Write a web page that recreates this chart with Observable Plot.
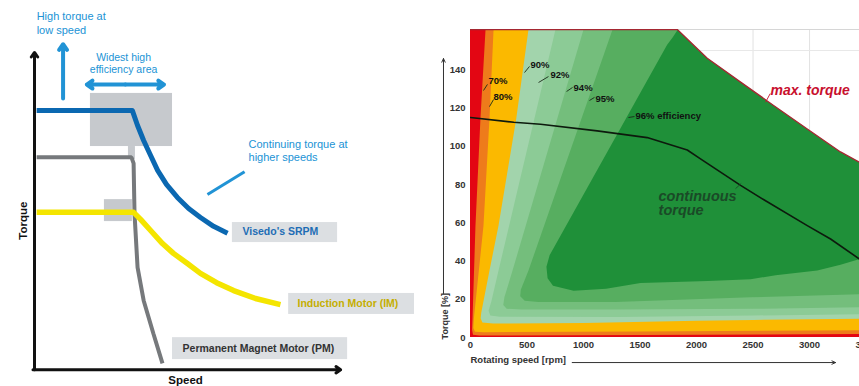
<!DOCTYPE html>
<html><head><meta charset="utf-8">
<script src="https://cdn.jsdelivr.net/npm/d3@7"></script>
<script src="https://cdn.jsdelivr.net/npm/@observablehq/plot@0.6"></script>
<style>
body{margin:0;background:#fff;}
#wrap{position:relative;width:859px;height:386px;overflow:hidden;background:#fff;}
#left{position:absolute;left:0;top:0;}
#right{position:absolute;left:430px;top:0;}
</style></head><body>
<div id="wrap"><div id="left"></div><div id="right"></div></div>
<script>
// ---------- LEFT PANEL (schematic, arbitrary units 0-100) ----------
const srpmCurve = [[0.7,81.1],[32.2,81.1],[33.9,76.4],[35.9,71.7],[38.2,67.0],[40.5,62.3],[43.4,57.9],[47.0,53.8],[50.7,50.3],[54.6,47.5],[58.9,44.7],[63.5,42.5]];
const pmCurve = [[0.7,66.4],[31.9,66.4],[32.6,64.5],[32.9,48.7],[33.9,31.8],[35.9,21.4],[39.1,11.0],[42.1,1.6]];
const imCurve = [[0.7,49.1],[32.6,49.1],[34.9,46.9],[38.2,43.4],[42.1,39.3],[45.7,36.2],[50.3,33.0],[54.6,29.9],[59.9,27.0],[65.5,24.5],[72.7,22.0],[80.9,20.1]];
const shadeBoxes = [
  {x1:18.4,x2:45.4,y1:69.8,y2:86.5},
  {x1:23.0,x2:32.2,y1:46.2,y2:53.1},
  {x1:30.9,x2:33.2,y1:65.7,y2:69.8}];
const labelBoxes = [
  {x1:65.1,x2:99.7,y1:39.6,y2:45.9},
  {x1:83.6,x2:125,y1:17.0,y2:23.6},
  {x1:45.4,x2:103,y1:2.8,y2:9.7}];
const curveLabels = [
  {x:68.4,y:42.9,t:"Visedo's SRPM",c:"#1e6db5"},
  {x:86.5,y:20.3,t:"Induction Motor (IM)",c:"#c4ae00"},
  {x:48.7,y:6.1,t:"Permanent Magnet Motor (PM)",c:"#333333"}];
const notesStart = [
  {x:0.7,y:110.6,t:"High torque at"},
  {x:0.7,y:106.3,t:"low speed"},
  {x:70.4,y:70.4,t:"Continuing torque at"},
  {x:70.4,y:66.4,t:"higher speeds"}];
const notesMid = [{x:29.3,y:97.7,t:"Widest high"},{x:29.3,y:93.9,t:"efficiency area"}];
const noteArrows = [
  {x1:9.4,y1:84.9,x2:9.4,y2:102.0},
  {x1:29.9,y1:89.3,x2:17.2,y2:89.3},
  {x1:29.9,y1:89.3,x2:42.6,y2:89.3}];
const noteLinks = [{x1:56.9,y1:54.7,x2:69.1,y2:61.9}];
const leftAxes = [{x1:0,y1:-0.4,x2:0,y2:99.4},{x1:-0.5,y1:-0.4,x2:100.7,y2:-0.4}];
const leftAxisLabels = [{x:-3.6,y:46.5,t:"Torque",r:-90},{x:49.7,y:-3.8,t:"Speed",r:0}];

const FONT = "Liberation Sans, Arial, Helvetica, sans-serif";
const LB = "#2193d5";
const px = d => d[0], py = d => d[1];

const left = Plot.plot({
  width: 430, height: 386,
  marginLeft: 34, marginRight: 92, marginTop: 50, marginBottom: 18,
  x: {domain: [0, 100], axis: null},
  y: {domain: [0, 100], axis: null},
  style: {fontFamily: FONT, background: "transparent", overflow: "visible"},
  marks: [
    Plot.rect(shadeBoxes, {x1:"x1", x2:"x2", y1:"y1", y2:"y2", fill:"#c6c9cd"}),
    Plot.rect(labelBoxes, {x1:"x1", x2:"x2", y1:"y1", y2:"y2", fill:"#dcdfe2"}),
    Plot.line(pmCurve, {x:px, y:py, stroke:"#76797c", strokeWidth:4, strokeLinecap:"butt", strokeLinejoin:"miter"}),
    Plot.line(imCurve, {x:px, y:py, stroke:"#f4e500", strokeWidth:5.5, strokeLinecap:"butt", strokeLinejoin:"round"}),
    Plot.line(srpmCurve, {x:px, y:py, stroke:"#0b68b1", strokeWidth:5, strokeLinecap:"butt", strokeLinejoin:"round"}),
    Plot.arrow(noteArrows, {x1:"x1", y1:"y1", x2:"x2", y2:"y2", stroke:LB, strokeWidth:4, headLength:2.6, headAngle:70}),
    Plot.link(noteLinks, {x1:"x1", y1:"y1", x2:"x2", y2:"y2", stroke:LB, strokeWidth:3}),
    Plot.arrow(leftAxes, {x1:"x1", y1:"y1", x2:"x2", y2:"y2", stroke:"#111", strokeWidth:3, headLength:2.8, headAngle:70}),
    Plot.text(notesStart, {x:"x", y:"y", text:"t", textAnchor:"start", fill:LB, fontSize:11}),
    Plot.text(notesMid, {x:"x", y:"y", text:"t", textAnchor:"middle", fill:LB, fontSize:10.5}),
    Plot.text(curveLabels, {x:"x", y:"y", text:"t", textAnchor:"start", fill:"c", fontSize:10.5, fontWeight:"bold"}),
    Plot.text(leftAxisLabels, {x:"x", y:"y", text:"t", rotate:"r", textAnchor:"middle", fill:"#111", fontSize:11.5, fontWeight:"bold"})
  ]
});
document.getElementById("left").append(left);

// ---------- RIGHT PANEL (efficiency map) ----------
const ticksRpm = [0,500,1000,1500,2000,2500,3000,3500];
const ticksTorque = [0,20,40,60,80,100,120,140];
const gridRpm = [2500,3000];
const gridTorque = [150];
const maxTorque = [[0,161],[1830,161],[2095,146],[2390,133.5],[2682,121.3],[2980,109],[3274,97],[3442,91.6],[3600,85.5]];
const contTorque = [[0,115],[383,112.5],[620,111.5],[1121,108],[1563,104.5],[1918,98],[2035,93.4],[2390,79.5],[2596,72],[2980,58.5],[3186,51.5],[3442,41],[3600,35]];
const bandAll = [[-50,-10],[-50,175],[3700,175],[3700,-10]];
const band70 = [[140,175],[133,161],[88,114.5],[44,58.5],[18,10],[14,4],[22,1.5],[80,1.0],[1500,1.3],[3700,1.9],[3700,175]];
const band80 = [[214,175],[204,161],[168,114.5],[115,58.5],[30,10],[25,5],[40,3],[120,2.8],[1500,3.2],[3700,3.8],[3700,175]];
const band90 = [[530,175],[513,161],[405,114.5],[248,58.5],[168,35],[95,13],[90,10],[105,7.8],[200,7.3],[1000,7.6],[2000,8.8],[2500,9.2],[3700,10],[3700,175]];
const band92 = [[790,175],[752,161],[560,113],[400,73],[248,35],[185,19],[160,14],[175,11.5],[260,10.9],[1300,10.7],[2500,11.5],[3700,12.4],[3700,175]];
const band94 = [[1070,175],[1000,161],[372,35],[300,21],[290,17],[320,15],[450,14.6],[1300,14.6],[2500,15],[3700,16],[3700,175]];
const band95 = [[1340,175],[1257,161],[513,35],[445,25],[440,21.5],[480,19.2],[600,18.5],[1283,18.5],[2478,21],[3700,23],[3700,175]];
const band96 = [[1880,175],[1835,161],[1790,157],[1740,153],[700,43],[672,37],[682,31],[730,27],[912,24.5],[1200,25.5],[1504,28.5],[2100,29.5],[2478,30.5],[2700,32.5],[3068,35],[3274,38],[3442,41],[3700,44],[3700,175]];
const bandColors = ["#e30613","#ee7b1b","#fbb900","#a2d4ac","#8ccb96","#74be7c","#57ae60","#1f9039"];
const bands = [bandAll, band70, band80, band90, band92, band94, band95, band96];

const effLabels = [
  {x:159,y:134.0,t:"70%"},{x:204,y:125.8,t:"80%"},{x:531,y:142.6,t:"90%"},
  {x:708,y:137.2,t:"92%"},{x:912,y:130.5,t:"94%"},{x:1106,y:124.8,t:"95%"},
  {x:1460,y:115.7,t:"96% efficiency"}];
const effLeaders = [
  {x1:115,y1:129.1,x2:150,y2:132.3},{x1:168,y1:120.7,x2:204,y2:124.4},
  {x1:478,y1:138.5,x2:522,y2:141.7},{x1:602,y1:133.3,x2:690,y2:136.4},
  {x1:850,y1:128.6,x2:903,y2:130.7},{x1:1053,y1:123.9,x2:1097,y2:125.5},
  {x1:1398,y1:115.0,x2:1451,y2:115.5}];
const maxLabel = [{x:2655,y:128.9,t:"max. torque"}];
const maxLeader = [{x1:2611,y1:123,x2:2652,y2:127.5}];
const contLabel = [{x:1664,y:74.0,t:"continuous"},{x:1664,y:66.2,t:"torque"}];
const contLeader = [{x1:2345,y1:77.8,x2:2395,y2:80.5}];
const axisTitles = [{x:0,y:-11.9,t:"Rotating speed [rpm]"}];
const yTitle = [{x:-221,y:-1,t:"Torque [%]"}];
const rightArrows = [{x1:900,y1:-13.1,x2:3230,y2:-13.1},{x1:-239,y1:23,x2:-239,y2:145.8}];

const maxAt = d3.scaleLinear().domain(maxTorque.map(px)).range(maxTorque.map(py));
const rpmAt = d3.scaleLinear().domain(maxTorque.slice(1).map(py)).range(maxTorque.slice(1).map(px));
const maskPoly = [...maxTorque.filter(d => d[0] >= 1830), [3700,85], [3700,220], [1830,220]];

const poly = (pts, color) => Plot.line(pts, {x:px, y:py, fill:color, stroke:"none", clip:true});

const right = Plot.plot({
  width: 429, height: 386,
  marginLeft: 40, marginRight: 0, marginTop: 29, marginBottom: 49,
  x: {domain: [0, 3442]},
  y: {domain: [0, 161]},
  style: {fontFamily: FONT, background: "transparent"},
  marks: [
    ...bands.map((b, i) => poly(b, bandColors[i])),
    poly(maskPoly, "#ffffff"),
    Plot.ruleX(gridRpm, {x: d => d, y1: d => maxAt(d), y2: 161, stroke:"#e2e2e2", strokeWidth:1}),
    Plot.ruleY(gridTorque, {y: d => d, x1: d => rpmAt(d), x2: 3442, stroke:"#e8e8e8", strokeWidth:1}),
    Plot.ruleY([161], {x1:1830, x2:3442, stroke:"#d6d6d6", strokeWidth:1}),
    Plot.line(maxTorque, {x:px, y:py, stroke:"#a52731", strokeWidth:1.3, clip:true}),
    Plot.line(contTorque, {x:px, y:py, stroke:"#0d1a0d", strokeWidth:1.6, clip:true}),
    Plot.link(effLeaders, {x1:"x1", y1:"y1", x2:"x2", y2:"y2", stroke:"#1a2a1a", strokeWidth:0.9}),
    Plot.text(effLabels, {x:"x", y:"y", text:"t", textAnchor:"start", fill:"#111", fontSize:9.5, fontWeight:"bold"}),
    Plot.link(maxLeader, {x1:"x1", y1:"y1", x2:"x2", y2:"y2", stroke:"#c8102e", strokeWidth:0.9}),
    Plot.text(maxLabel, {x:"x", y:"y", text:"t", textAnchor:"start", fill:"#c8102e", fontSize:14, fontWeight:"bold", fontStyle:"italic"}),
    Plot.link(contLeader, {x1:"x1", y1:"y1", x2:"x2", y2:"y2", stroke:"#1b4d28", strokeWidth:0.9}),
    Plot.text(contLabel, {x:"x", y:"y", text:"t", textAnchor:"start", fill:"#1a4a27", fontSize:14.5, fontWeight:"bold", fontStyle:"italic"}),
    Plot.arrow(rightArrows, {x1:"x1", y1:"y1", x2:"x2", y2:"y2", stroke:"#333", strokeWidth:1, headLength:6, headAngle:50}),
    Plot.text(axisTitles, {x:"x", y:"y", text:"t", textAnchor:"start", fill:"#333", fontSize:9.5, fontWeight:"bold"}),
    Plot.text(yTitle, {x:"x", y:"y", text:"t", rotate:-90, textAnchor:"start", fill:"#333", fontSize:9, fontWeight:"bold"}),
    Plot.axisX(ticksRpm, {tickSize:0, tickPadding:4, fontSize:9.5, fontWeight:"bold", color:"#333", label:null, tickFormat: d => String(d)}),
    Plot.axisY(ticksTorque, {tickSize:0, tickPadding:5, fontSize:9.5, fontWeight:"bold", color:"#333", label:null, tickFormat: d => String(d)})
  ]
});
document.getElementById("right").append(right);
</script>
</body></html>
